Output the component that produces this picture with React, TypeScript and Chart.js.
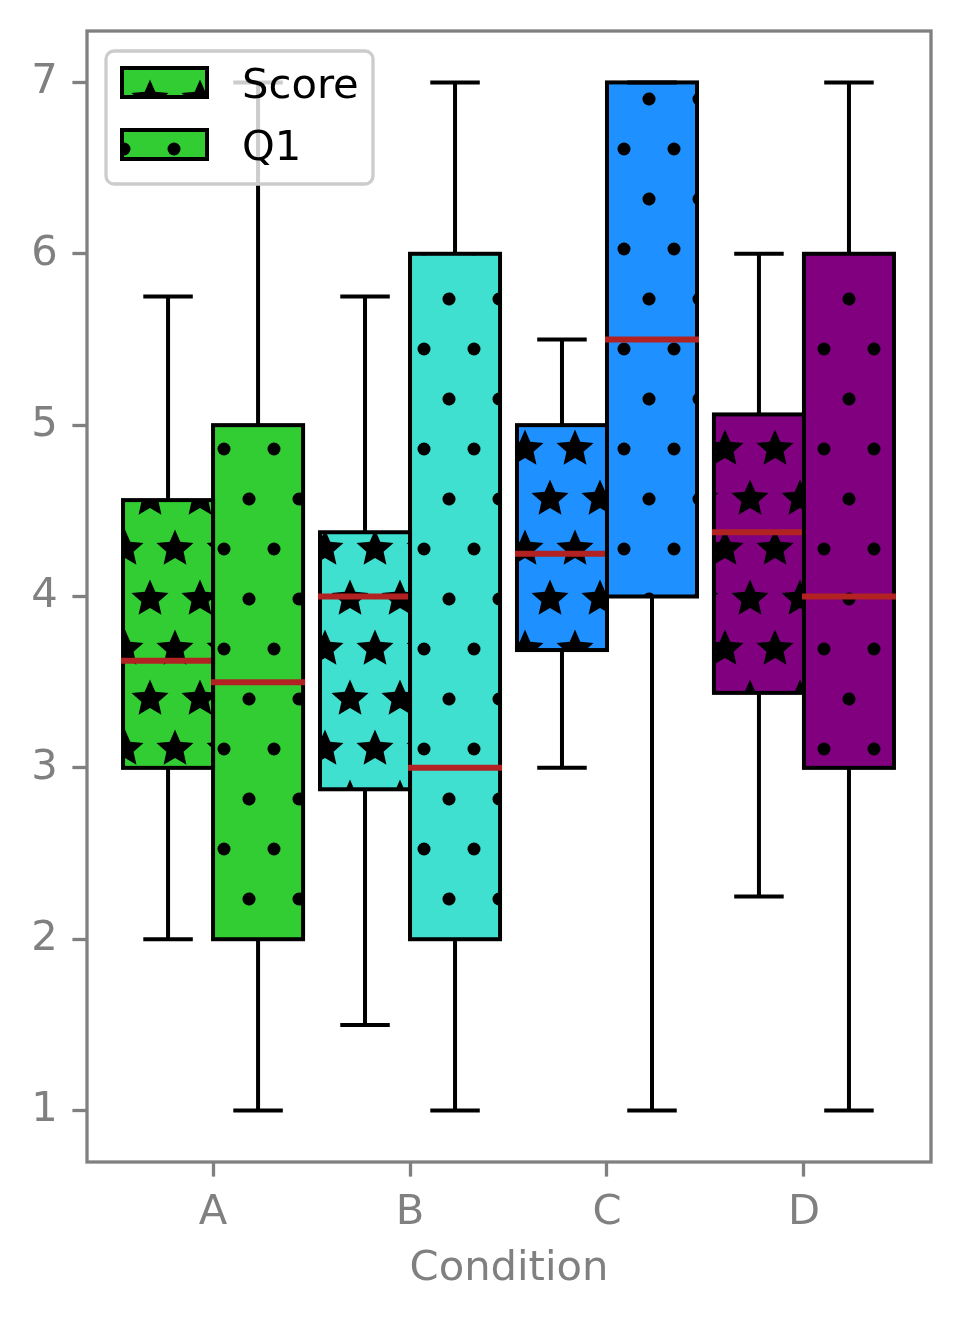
import React, { useEffect, useRef } from 'react';
import { Chart, registerables } from 'chart.js';
Chart.register(...registerables);

const categories = ['A', 'B', 'C', 'D'];
const catColors = ['#32CD32', '#40E0D0', '#1E90FF', '#800080'];
const seriesNames = ['Score', 'Q1'];

const scoreLow = [2, 1.5, 3, 2.25];
const scoreQ1 = [3, 2.875, 3.6875, 3.4375];
const scoreMed = [3.625, 4, 4.25, 4.375];
const scoreQ3 = [4.5625, 4.375, 5, 5.0625];
const scoreHigh = [5.75, 5.75, 5.5, 6];

const q1Low = [1, 1, 1, 1];
const q1Q1 = [2, 2, 4, 3];
const q1Med = [3.5, 3, 5.5, 4];
const q1Q3 = [5, 6, 7, 6];
const q1High = [7, 7, 7, 7];

const yTicks = [1, 2, 3, 4, 5, 6, 7];

const FONT = 'DejaVu Sans';
const FS = 41.7;
const GRAY = '#808080';

function drawStar(c: CanvasRenderingContext2D, cx: number, cy: number, R: number, r: number) {
  c.beginPath();
  for (let k = 0; k < 10; k++) {
    const rad = k % 2 === 0 ? R : r;
    const a = -Math.PI / 2 + (k * Math.PI) / 5;
    const x = cx + rad * Math.cos(a);
    const y = cy + rad * Math.sin(a);
    if (k === 0) c.moveTo(x, y);
    else c.lineTo(x, y);
  }
  c.closePath();
  c.fill();
}

function makePattern(ctx: CanvasRenderingContext2D, color: string, kind: string) {
  const t = document.createElement('canvas');
  t.width = 50;
  t.height = 100;
  const c = t.getContext('2d')!;
  c.fillStyle = color;
  c.fillRect(0, 0, 50, 100);
  c.fillStyle = '#000';
  const [ox, oy] = kind === 'star' ? [0, -1] : [-1, -1];
  for (let i = -1; i <= 2; i++) {
    for (let j = -1; j <= 2; j++) {
      for (const [px, py] of [[0, 0], [25, 50]]) {
        const cx = i * 50 + px + ox;
        const cy = j * 100 + py + oy;
        if (kind === 'star') drawStar(c, cx, cy, 19.5, 9);
        else {
          c.beginPath();
          c.arc(cx, cy, 6.5, 0, Math.PI * 2);
          c.fill();
        }
      }
    }
  }
  return ctx.createPattern(t, 'repeat')!;
}

export default function App() {
  const ref = useRef<HTMLCanvasElement>(null);
  useEffect(() => {
    const canvas = ref.current!;
    const ctx = canvas.getContext('2d')!;
    const starPat = catColors.map((c) => makePattern(ctx, c, 'star'));
    const dotPat = catColors.map((c) => makePattern(ctx, c, 'dot'));
    const series = [
      { name: seriesNames[0], low: scoreLow, q1: scoreQ1, med: scoreMed, q3: scoreQ3, high: scoreHigh, pats: starPat },
      { name: seriesNames[1], low: q1Low, q1: q1Q1, med: q1Med, q3: q1Q3, high: q1High, pats: dotPat },
    ];

    const boxPlugin = {
      id: 'boxPlugin',
      afterDatasetsDraw(chart: any) {
        const c = chart.ctx;
        const ys = chart.scales.y;
        c.save();
        series.forEach((s, d) => {
          const meta = chart.getDatasetMeta(d);
          meta.data.forEach((bar: any, i: number) => {
            const x = bar.x;
            const w = bar.width;
            const yLow = ys.getPixelForValue(s.low[i]);
            const yQ1 = ys.getPixelForValue(s.q1[i]);
            const yMed = ys.getPixelForValue(s.med[i]);
            const yQ3 = ys.getPixelForValue(s.q3[i]);
            const yHigh = ys.getPixelForValue(s.high[i]);
            c.strokeStyle = '#000';
            c.lineWidth = 4;
            c.lineCap = 'butt';
            c.beginPath();
            c.moveTo(x, yQ1);
            c.lineTo(x, yLow);
            c.moveTo(x, yQ3);
            c.lineTo(x, yHigh);
            const cw = w * 0.275;
            c.moveTo(x - cw, yLow);
            c.lineTo(x + cw, yLow);
            c.moveTo(x - cw, yHigh);
            c.lineTo(x + cw, yHigh);
            c.stroke();
            c.strokeRect(x - w / 2, yQ3, w, yQ1 - yQ3);
            c.strokeStyle = '#B22222';
            c.lineWidth = 6;
            c.beginPath();
            c.moveTo(x - w / 2 - 2, yMed);
            c.lineTo(x + w / 2 + 2, yMed);
            c.stroke();
          });
        });
        c.restore();
      },
      afterDraw(chart: any) {
        const c = chart.ctx;
        const ca = chart.chartArea;
        c.save();
        // frame
        c.strokeStyle = GRAY;
        c.lineWidth = 3.3;
        c.strokeRect(ca.left, ca.top, ca.right - ca.left, ca.bottom - ca.top);
        // legend
        const lx = ca.left + 19;
        const ly = ca.top + 20;
        const lw = 267;
        const lh = 133;
        c.beginPath();
        c.roundRect(lx, ly, lw, lh, 8);
        c.fillStyle = 'rgba(255,255,255,0.8)';
        c.fill();
        c.strokeStyle = '#cccccc';
        c.lineWidth = 3.3;
        c.stroke();
        const pats = [starPat[0], dotPat[0]];
        series.forEach((s, k) => {
          const hy = ly + 17 + k * 62;
          c.fillStyle = pats[k];
          c.fillRect(lx + 16, hy, 85, 29);
          c.strokeStyle = '#000';
          c.lineWidth = 4;
          c.strokeRect(lx + 16, hy, 85, 29);
          c.fillStyle = '#000';
          c.font = `${FS}px "${FONT}"`;
          c.textBaseline = 'middle';
          c.textAlign = 'left';
          c.fillText(s.name, lx + 136, hy + 19);
        });
        c.restore();
      },
    };

    const chart = new Chart(canvas, {
      type: 'bar',
      data: {
        datasets: series.map((s) => ({
          label: s.name,
          data: categories.map((_, i) => ({ x: i, y: [s.q1[i], s.q3[i]] })),
          backgroundColor: s.pats,
          borderWidth: 0,
          categoryPercentage: 0.914,
          barPercentage: 1,
        })),
      } as any,
      options: {
        animation: false,
        responsive: false,
        layout: { padding: { top: 31, right: 30, left: 0, bottom: 0 } },
        plugins: { legend: { display: false }, tooltip: { enabled: false } },
        scales: {
          x: {
            type: 'linear',
            min: -0.64,
            max: 3.645,
            offset: false,
            afterBuildTicks: (s: any) => {
              s.ticks = categories.map((_, i) => ({ value: i }));
            },
            afterFit: (s: any) => {
              s.height = 156;
              s.paddingLeft = 0;
              s.paddingRight = 0;
            },
            ticks: {
              callback: (v: any) => categories[Math.round(Number(v))],
              color: GRAY,
              font: { family: FONT, size: FS },
              padding: 11.6,
              maxRotation: 0,
              autoSkip: false,
            },
            grid: { offset: false, drawOnChartArea: false, drawTicks: true, tickLength: 14.6, tickWidth: 3.3, tickColor: GRAY },
            border: { display: false },
            title: {
              display: true,
              text: 'Condition',
              color: GRAY,
              font: { family: FONT, size: FS },
              padding: { top: 0, bottom: 24 },
            },
          },
          y: {
            type: 'linear',
            min: 0.7,
            max: 7.3,
            afterBuildTicks: (s: any) => {
              s.ticks = yTicks.map((v) => ({ value: v }));
            },
            afterFit: (s: any) => {
              s.width = 87;
              s.paddingTop = 0;
              s.paddingBottom = 0;
            },
            ticks: {
              callback: (v: any) => String(v),
              color: GRAY,
              font: { family: FONT, size: FS },
              padding: 14.6,
            },
            grid: { drawOnChartArea: false, drawTicks: true, tickLength: 14.6, tickWidth: 3.3, tickColor: GRAY },
            border: { display: false },
          },
        },
      } as any,
      plugins: [boxPlugin],
    });
    return () => chart.destroy();
  }, []);
  return (
    <div style={{ position: 'fixed', left: 0, top: 0, width: 961, height: 1318, background: '#fff' }}>
      <canvas ref={ref} width={961} height={1318} style={{ width: 961, height: 1318, display: 'block' }} />
    </div>
  );
}
